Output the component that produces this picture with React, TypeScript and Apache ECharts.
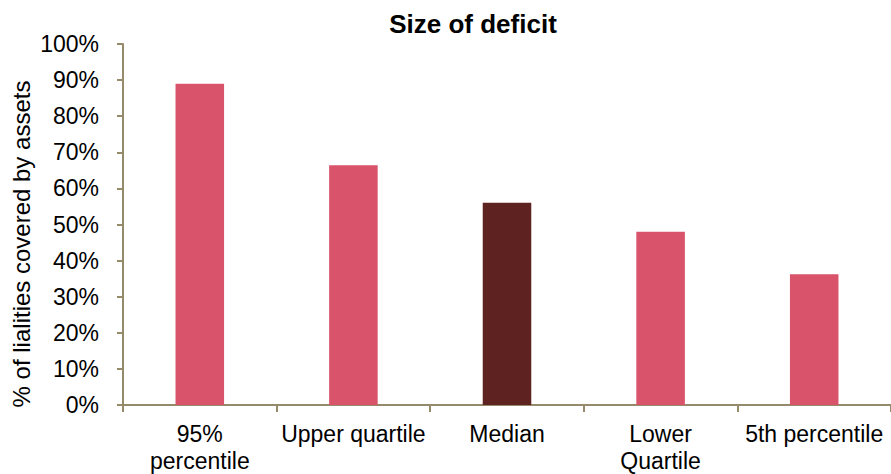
import React, { useEffect, useRef } from "react";
import * as echarts from "echarts";

const categories = ["95%\npercentile", "Upper quartile", "Median", "Lower\nQuartile", "5th percentile"];
const values = [89, 66.4, 56, 48, 36.2];
const barColors = ["#D9536A", "#D9536A", "#5E2320", "#D9536A", "#D9536A"];
const yTicks = { min: 0, max: 100, interval: 10 };
const yAxisTitle = "% of lialities covered by assets";
const chartTitle = "Size of deficit";

export default function App() {
  const ref = useRef<HTMLDivElement>(null);
  useEffect(() => {
    document.body.style.margin = "0";
    const chart = echarts.init(ref.current!, undefined, { renderer: "svg" });
    const font = "'Liberation Sans', Arial, sans-serif";
    const axisColor = "#958B6B";
    chart.setOption({
      animation: false,
      backgroundColor: "#ffffff",
      title: {
        text: chartTitle,
        left: 468,
        top: 6,
        textAlign: "center",
        textStyle: { fontFamily: font, fontSize: 26, fontWeight: "bold", color: "#000" },
      },
      graphic: [
        {
          type: "text",
          x: 21,
          y: 244,
          rotation: Math.PI / 2,
          style: {
            text: yAxisTitle,
            fontFamily: font,
            fontSize: 24,
            fill: "#000",
            textAlign: "center",
            textVerticalAlign: "middle",
          },
        },
      ],
      grid: { left: 123, right: 0, top: 44, bottom: 69, containLabel: false },
      xAxis: {
        type: "category",
        data: categories,
        axisLine: { lineStyle: { color: axisColor, width: 2 } },
        axisTick: { show: true, length: 7, alignWithLabel: false, lineStyle: { color: axisColor, width: 2 } },
        axisLabel: { margin: 15, fontFamily: font, fontSize: 23, color: "#000", lineHeight: 27, interval: 0 },
      },
      yAxis: {
        type: "value",
        min: yTicks.min,
        max: yTicks.max,
        interval: yTicks.interval,
        axisLine: { show: true, lineStyle: { color: axisColor, width: 2 } },
        axisTick: { show: true, length: 6, lineStyle: { color: axisColor, width: 2 } },
        splitLine: { show: false },
        axisLabel: { margin: 24, fontFamily: font, fontSize: 23, color: "#000", formatter: "{value}%" },
      },
      series: [
        {
          type: "bar",
          data: values.map((v, i) => ({ value: v, itemStyle: { color: barColors[i] } })),
          barWidth: "31.6%",
        },
      ],
    });
    return () => chart.dispose();
  }, []);
  return <div ref={ref} style={{ position: "absolute", left: 0, top: 0, width: 891, height: 474 }} />;
}
